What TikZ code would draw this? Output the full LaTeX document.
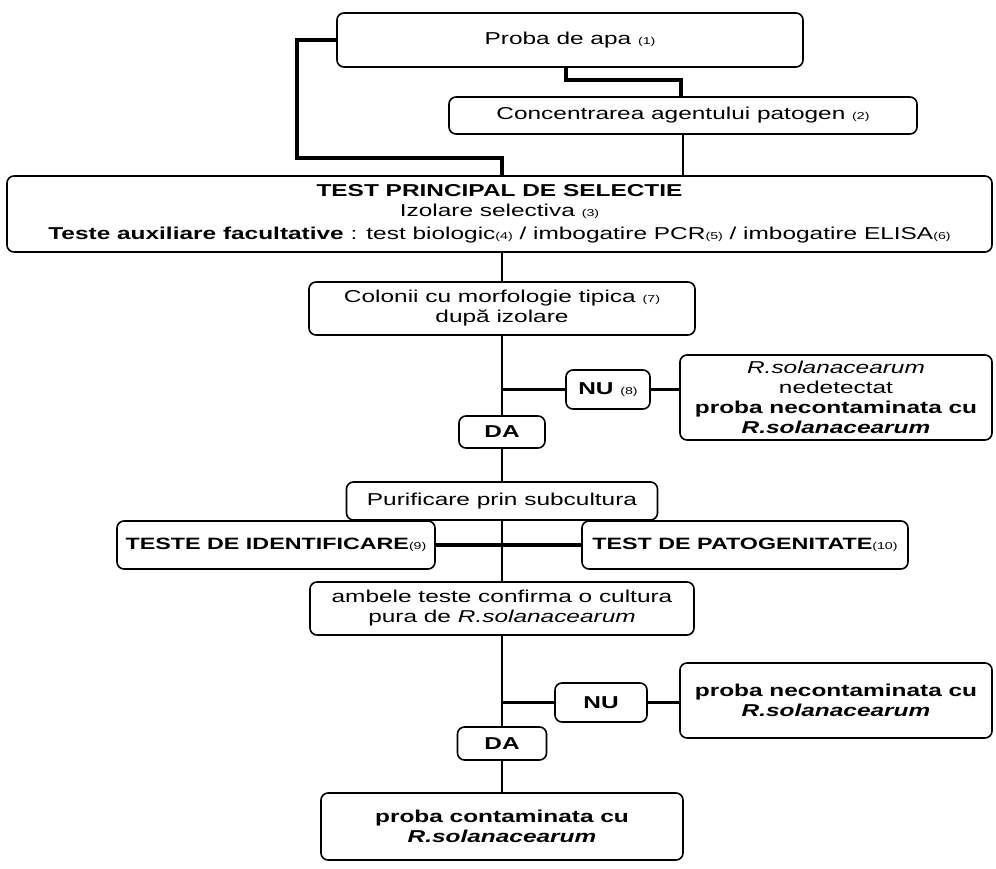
\documentclass[tikz,border=0pt]{standalone}
\usepackage{fontspec}
\setmainfont{Liberation Sans}[FakeStretch=1.42]
\newcommand\fs{\fontsize{17.2}{20}\selectfont}
\newcommand\fsb{\fontsize{16.4}{20}\selectfont}
\newcommand\nn[1]{{\fontsize{10}{10}\selectfont\mdseries(#1)}}
\tikzset{
  box/.style={draw, line width=1.6pt, rounded corners=7pt, align=center, inner sep=0pt, font=\fs},
  thk/.style={line width=3.2pt},
  med/.style={line width=2.4pt},
  thn/.style={line width=1.4pt}
}
\begin{document}
\begin{tikzpicture}[x=1pt,y=-1pt]
\useasboundingbox[fill=white] (0,0) rectangle (996,868);
% boxes
\node[box, minimum width=466pt, minimum height=54pt] (p1) at (570,40) {Proba de apa \nn{1}};
\node[box, minimum width=468pt, minimum height=37pt] (p2) at (683,115.5) {Concentrarea agentului patogen \nn{2}};
\node[box, minimum width=985pt, minimum height=76pt] (test) at (499.5,214)
  {\textbf{TEST PRINCIPAL DE SELECTIE}\\Izolare selectiva \nn{3}\\[3pt]
   \textbf{Teste auxiliare facultative} : test biologic\nn{4} / imbogatire PCR\nn{5} / imbogatire ELISA\nn{6}};
\node[box, minimum width=386pt, minimum height=53pt] (col) at (502,308.5) {Colonii cu morfologie tipica \nn{7}\\după izolare};
\node[box, minimum width=84pt, minimum height=39pt] (nu1) at (608,389.5) {\textbf{NU} \nn{8}};
\node[box, minimum width=312pt, minimum height=85pt] (r1) at (836,397.5)
  {\textit{R.solanacearum}\\nedetectat\\\textbf{proba necontaminata cu}\\\textbf{\textit{R.solanacearum}}};
\node[box, minimum width=86pt, minimum height=32pt] (da1) at (502,432) {\textbf{DA}};
\node[box, minimum width=311pt, minimum height=38pt] (pur) at (502,501) {Purificare prin subcultura};
\node[box, font=\fsb, minimum width=318pt, minimum height=48pt] (tid) at (276,545) {\textbf{TESTE DE IDENTIFICARE}\nn{9}};
\node[box, font=\fsb, minimum width=326pt, minimum height=48pt] (tpat) at (745,545) {\textbf{TEST DE PATOGENITATE}\nn{10}};
\node[box, minimum width=384pt, minimum height=53pt] (amb) at (502,608.5) {ambele teste confirma o cultura\\pura de \textit{R.solanacearum}};
\node[box, minimum width=92pt, minimum height=39pt] (nu2) at (601,702.5) {\textbf{NU}};
\node[box, minimum width=312pt, minimum height=75pt] (r2) at (836,700.5)
  {\textbf{proba necontaminata cu}\\\textbf{\textit{R.solanacearum}}};
\node[box, minimum width=89pt, minimum height=33pt] (da2) at (502,743.5) {\textbf{DA}};
\node[box, minimum width=362pt, minimum height=67pt] (fin) at (502,826.5)
  {\textbf{proba contaminata cu}\\\textbf{\textit{R.solanacearum}}};
% connectors
\coordinate (b1) at (297,158);
\coordinate (t1) at (502,176);
\draw[thk] (p1.west) -| (b1) -| (t1);
\coordinate (k1) at (566,80);
\coordinate (k2) at (681,80);
\draw[thk] (k1 |- p1.south) -- (k1) -- (k2) -- (k2 |- p2.north);
\draw[thn] (p2.south) -- (p2.south |- test.north);
\draw[med] (col.north |- test.south) -- (col.north);
\draw[med] (col.south) -- (da1.north);
\draw[thk] (col.south |- nu1.west) -- (nu1.west);
\draw[thk] (nu1.east) -- (nu1.east -| r1.west);
\draw[med] (da1.south) -- (pur.north);
\draw[med] (pur.south) -- (amb.north);
\draw[thk] (tid.east) -- (tpat.west);
\draw[med] (amb.south) -- (da2.north);
\draw[thk] (amb.south |- nu2.west) -- (nu2.west);
\draw[thk] (nu2.east) -- (nu2.east -| r2.west);
\draw[med] (da2.south) -- (fin.north);
\end{tikzpicture}
\end{document}
